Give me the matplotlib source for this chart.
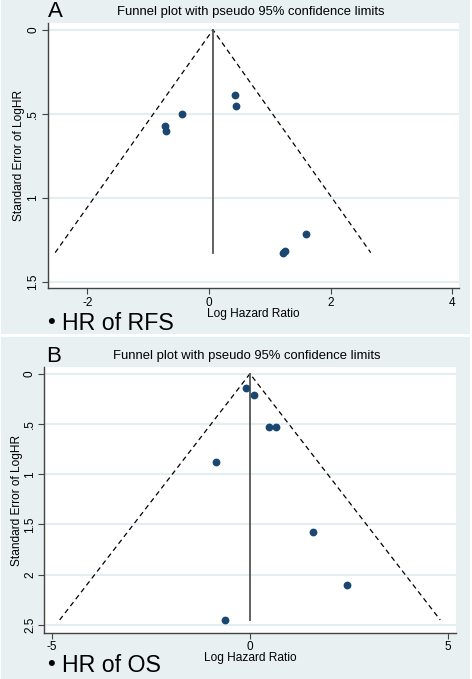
import matplotlib
matplotlib.use('Agg')
import matplotlib.pyplot as plt
import matplotlib.patches as patches

plt.rcParams['font.family'] = ['Liberation Sans', 'DejaVu Sans']

# panel A: HR of RFS
rfs_loghr = [0.42, 0.45, -0.44, -0.72, -0.70, 1.59, 1.22, 1.25]
rfs_se = [0.39, 0.455, 0.50, 0.57, 0.60, 1.215, 1.325, 1.315]
rfs_pooled = 0.065
rfs_xticks = [-2, 0, 2, 4]
rfs_yticks = [0, 0.5, 1, 1.5]
rfs_yticklabels = ['0', '.5', '1', '1.5']

# panel B: HR of OS
os_loghr = [-0.10, 0.11, 0.49, 0.65, -0.86, 1.60, 2.46, -0.64]
os_se = [0.14, 0.21, 0.535, 0.535, 0.875, 1.57, 2.10, 2.45]
os_pooled = 0.0
os_xticks = [-5, 0, 5]
os_yticks = [0, 0.5, 1, 1.5, 2, 2.5]
os_yticklabels = ['0', '.5', '1', '1.5', '2', '2.5']

W, H = 472, 679
BG = '#e8f0f2'
NAVY = '#1a476f'

fig = plt.figure(figsize=(W / 100, H / 100), dpi=100)
fig.patch.set_facecolor('white')


def fx(x):
    return x / W


def fy(y):
    return 1 - y / H


def panel(top, bottom, box, xs, ses, pooled, xticks, yticks, yticklabels,
          xlim, ylim, letter, label, txt):
    fig.patches.append(patches.Rectangle((fx(1), fy(bottom)), fx(469), (bottom - top) / H,
                                         transform=fig.transFigure, facecolor=BG,
                                         edgecolor='none', zorder=-5))
    l, r, t, b = box
    ax = fig.add_axes([fx(l), fy(b), fx(r - l), (b - t) / H])
    ax.set_facecolor('white')
    maxse = max(ses)
    ax.plot([pooled - 1.96 * maxse, pooled, pooled + 1.96 * maxse], [maxse, 0, maxse],
            color='black', lw=0.9, ls=(0, (4, 3)), zorder=3)
    ax.plot([pooled, pooled], [0, maxse], color='#555555', lw=1.3, zorder=3)
    ax.plot(xs, ses, 'o', color=NAVY, ms=4.6, zorder=4)
    ax.set_xlim(*xlim)
    ax.set_ylim(*ylim)
    ax.set_xticks(xticks)
    ax.set_xticklabels([str(v) for v in xticks])
    ax.set_yticks(yticks)
    ax.set_yticklabels(yticklabels, rotation=90, va='center')
    for v in yticks:
        ax.axhline(v, color='#e4eef0', lw=1.5, zorder=1)
    for s in ['top', 'right']:
        ax.spines[s].set_visible(False)
    for s in ['left', 'bottom']:
        ax.spines[s].set_color('#444444')
        ax.spines[s].set_linewidth(1.0)
    ax.tick_params(length=4, width=0.8, color='#444444', labelsize=8.5, pad=2)
    # texts
    lx, ly = letter[1]
    fig.text(fx(lx), fy(ly), letter[0], fontsize=16, ha='left', va='baseline')
    fig.text(fx((l + r) / 2 - 3), fy(top + letter[2]), 'Funnel plot with pseudo 95% confidence limits',
             fontsize=9.4, ha='center', va='center')
    fig.text(fx(label[0]), fy(label[1]), 'Standard Error of LogHR', fontsize=8.6,
             rotation=90, ha='center', va='center')
    fig.text(fx(label[2]), fy(label[3]), 'Log Hazard Ratio', fontsize=8.6,
             ha='center', va='center')
    fig.text(fx(47), fy(txt[1]), '\u2022', fontsize=16, ha='left', va='center')
    fig.text(fx(61.5), fy(txt[1]), txt[0], fontsize=16.7, ha='left', va='center')
    return ax


panel(0, 334, (47.7, 459, 22.7, 288.3), rfs_loghr, rfs_se, rfs_pooled,
      rfs_xticks, rfs_yticks, rfs_yticklabels, (-2.655, 4.115), (1.537, -0.042),
      ('A', (47.5, 17), 12), (19, 155, 253, 314.5), ('HR of RFS', 323))

panel(337, 679, (44.3, 456, 366.7, 632.7), os_loghr, os_se, os_pooled,
      os_xticks, os_yticks, os_yticklabels, (-5.19, 5.2), (2.577, -0.07),
      ('B', (46, 362.5), 19), (16.7, 500, 250, 658), ('HR of OS', 665))

fig.savefig('out.png', dpi=100, facecolor=fig.get_facecolor())
